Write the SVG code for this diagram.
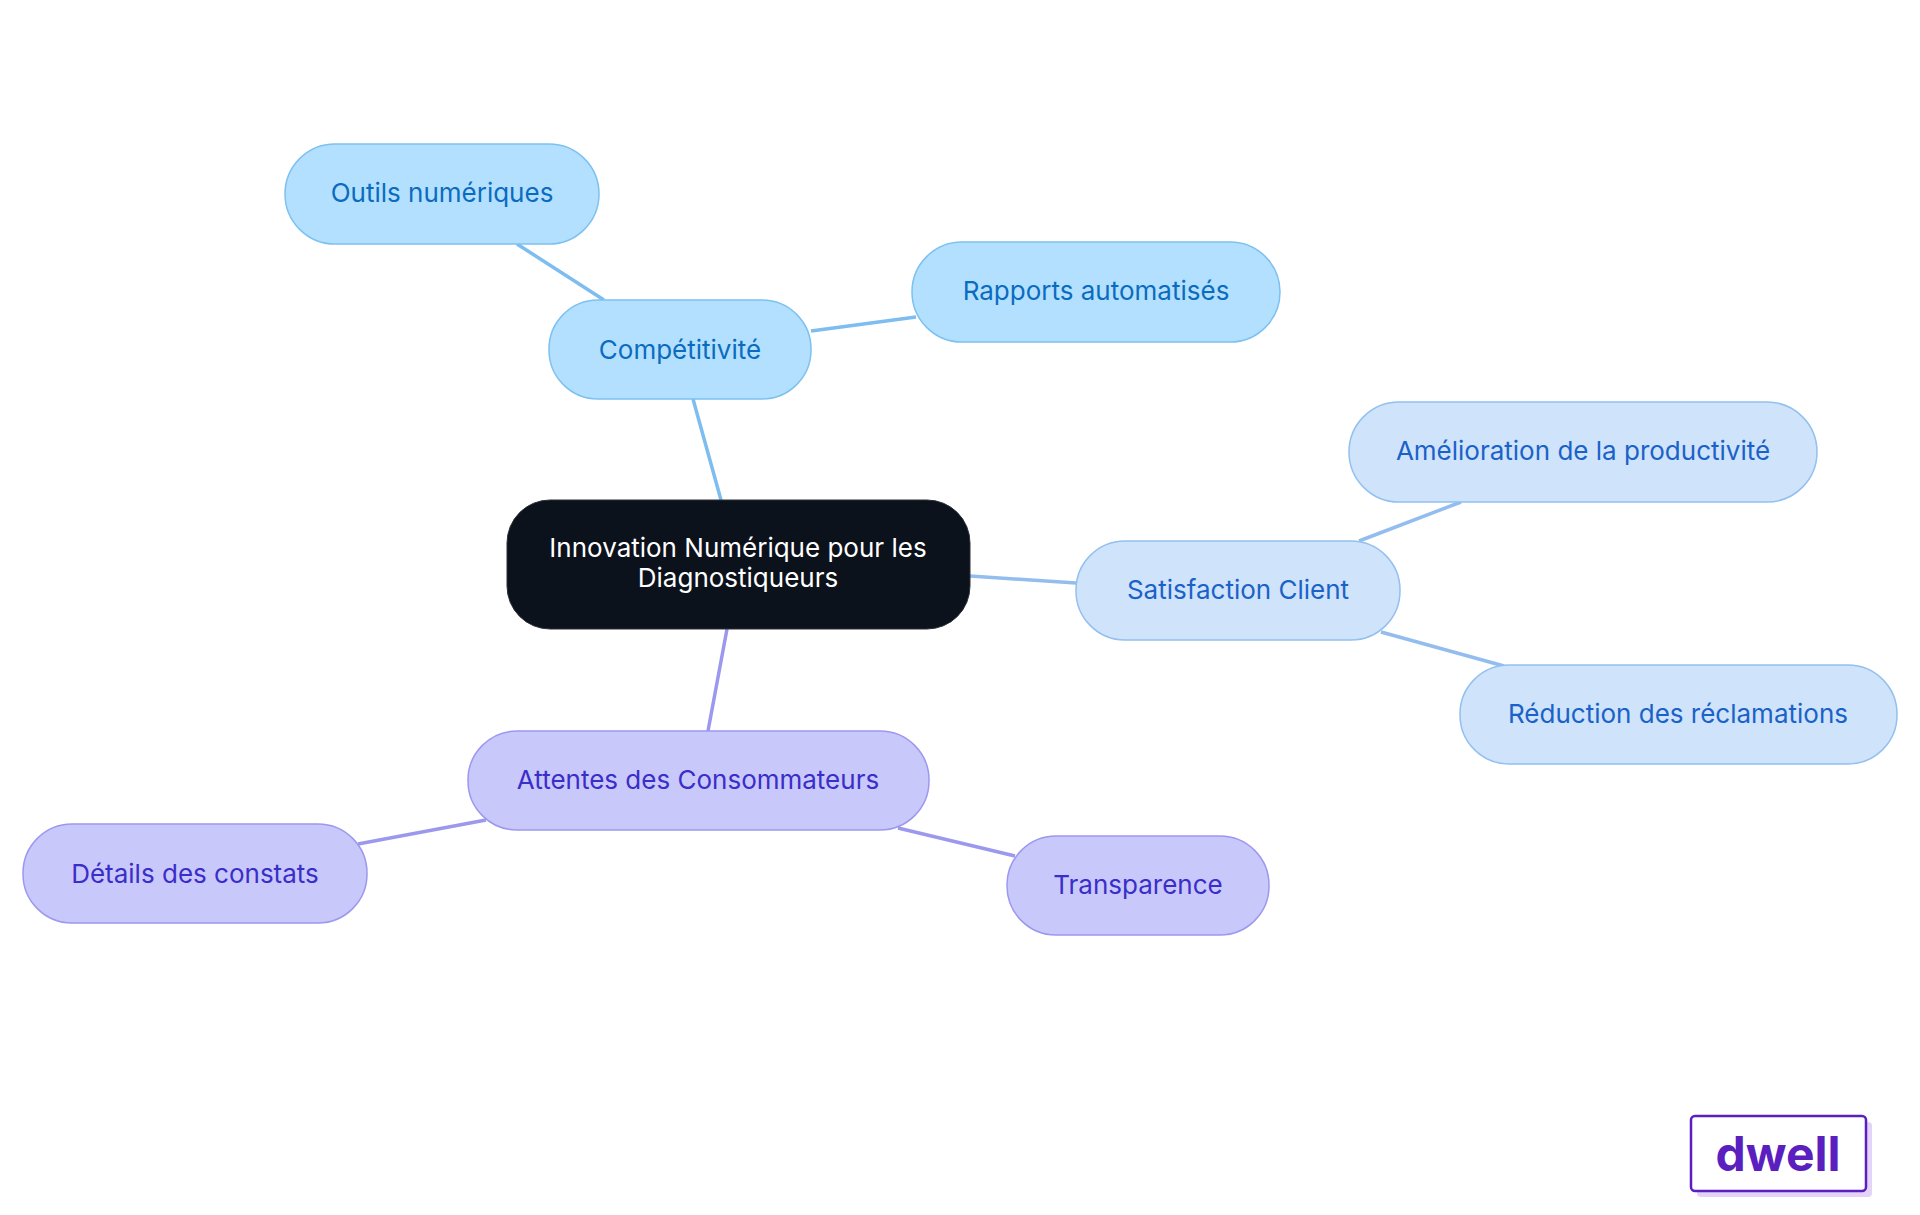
<svg xmlns="http://www.w3.org/2000/svg" width="1920" height="1215" viewBox="0 0 1920 1215">
<style>
text{font-family:Inter,"Liberation Sans",sans-serif;font-size:26px;text-anchor:middle;dominant-baseline:central}
.b rect{fill:#b3e0fe;stroke:#7dc1f0;stroke-width:1.5}.b text{fill:#0b6cbf}
.s rect{fill:#cfe3fa;stroke:#93c0ef;stroke-width:1.5}.s text{fill:#1a62c8}
.p rect{fill:#c9c8fb;stroke:#9c98ee;stroke-width:1.5}.p text{fill:#3a2ec8}
.e{fill:none;stroke-width:3.5}
</style>
<rect width="1920" height="1215" fill="#fff"/>
<g id="connectors">
<path class="e" stroke="#7dbdf0" d="M721 500L693 399M604 300L517 244M811 331L916 317"/>
<path class="e" stroke="#93bdee" d="M970 576L1076 583M1359 541L1461 502M1381 632L1504 666"/>
<path class="e" stroke="#9c98ee" d="M727 629L708 731M486 820L358 844M898 828L1015 856"/>
</g>
<g id="central"><rect x="507" y="500" width="463" height="129" rx="43" fill="#0c121c" stroke="#2a2f38"/><text x="738" y="547" fill="#fff">Innovation Numérique pour les</text><text x="738" y="577" fill="#fff">Diagnostiqueurs</text></g>
<g id="competitivite" class="b"><rect x="549" y="300" width="262" height="99" rx="49"/><text x="680" y="349">Compétitivité</text></g>
<g id="outils" class="b"><rect x="285" y="144" width="314" height="100" rx="50"/><text x="442" y="192">Outils numériques</text></g>
<g id="rapports" class="b"><rect x="912" y="242" width="368" height="100" rx="50"/><text x="1096" y="290">Rapports automatisés</text></g>
<g id="satisfaction" class="s"><rect x="1076" y="541" width="324" height="99" rx="49"/><text x="1238" y="589">Satisfaction Client</text></g>
<g id="amelioration" class="s"><rect x="1349" y="402" width="468" height="100" rx="50"/><text x="1583" y="450">Amélioration de la productivité</text></g>
<g id="reduction" class="s"><rect x="1460" y="665" width="437" height="99" rx="49"/><text x="1678" y="713">Réduction des réclamations</text></g>
<g id="attentes" class="p"><rect x="468" y="731" width="461" height="99" rx="49"/><text x="698" y="779">Attentes des Consommateurs</text></g>
<g id="details" class="p"><rect x="23" y="824" width="344" height="99" rx="49"/><text x="195" y="873">Détails des constats</text></g>
<g id="transparence" class="p"><rect x="1007" y="836" width="262" height="99" rx="49"/><text x="1138" y="884">Transparence</text></g>
<g id="logo"><rect x="1697" y="1122" width="175" height="75" rx="4" fill="#e3d3f7"/><rect x="1691" y="1116" width="175" height="75" rx="4" fill="#fff" stroke="#5b1fc0" stroke-width="2.5"/><text x="1778" y="1153" style="font-size:48px;font-weight:700;fill:#5b1fc0">dwell</text></g>
</svg>
